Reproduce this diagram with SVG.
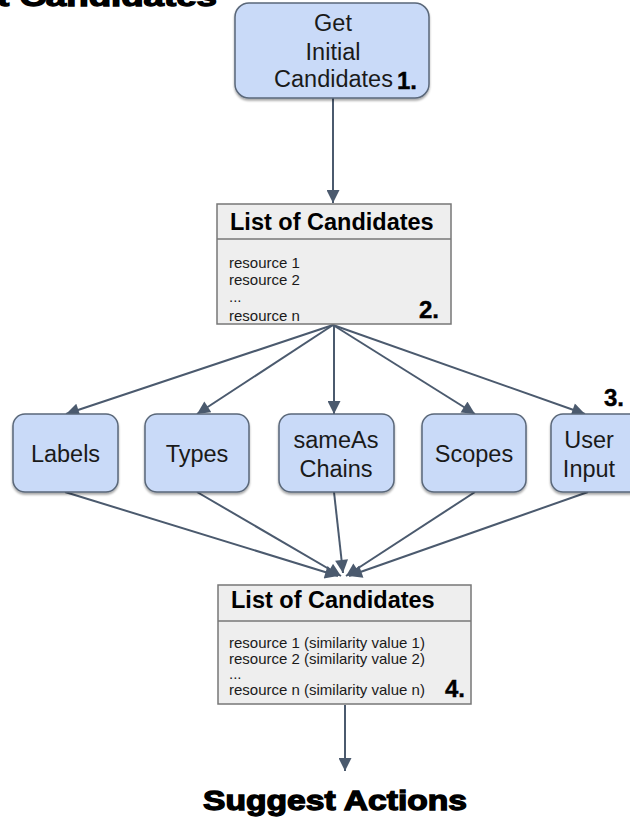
<svg xmlns="http://www.w3.org/2000/svg" width="630" height="822" viewBox="0 0 630 822">
  <style>
    .node rect { fill: #c9daf8; stroke: #5a6779; stroke-width: 1.5; filter: url(#shadow); }
    .list rect { fill: #eeeeee; stroke: #777777; stroke-width: 1.5; }
    .list line { stroke: #777777; stroke-width: 1.5; }
    .lbl { font-family: "Liberation Sans", Arial, sans-serif; font-size: 23.5px; fill: #1a1a1a; text-anchor: middle; }
    .head { font-family: "Liberation Sans", Arial, sans-serif; font-size: 23.5px; font-weight: bold; fill: #000; }
    .body { font-family: "Liberation Sans", Arial, sans-serif; font-size: 15px; fill: #1a1a1a; }
    .num { font-family: "Liberation Sans", Arial, sans-serif; font-size: 24px; font-weight: bold; fill: #000; stroke: #000; stroke-width: 0.4; }
    .title { font-family: "Liberation Sans", Arial, sans-serif; font-size: 28px; font-weight: bold; fill: #000; stroke: #000; stroke-width: 1.3; }
    .edges line { stroke: #4b5a6e; stroke-width: 2; fill: none; marker-end: url(#arrow); }
  </style>
  <defs>
    <marker id="arrow" viewBox="0 0 10 10" refX="10" refY="5" markerUnits="userSpaceOnUse" markerWidth="14" markerHeight="13" orient="auto">
      <path d="M0,0 L10,5 L0,10 z" fill="#4b5a6e"/>
    </marker>
    <filter id="shadow" x="-10%" y="-10%" width="120%" height="130%">
      <feDropShadow dx="0" dy="2" stdDeviation="1.2" flood-color="#000" flood-opacity="0.35"/>
    </filter>
  </defs>

  <rect width="630" height="822" fill="#ffffff"/>

  <!-- heading, partly above the top edge -->
  <text class="title" x="-3" y="6" textLength="220" lengthAdjust="spacingAndGlyphs">t Candidates</text>

  <!-- connectors -->
  <g id="connectors" class="edges">
    <line x1="333" y1="98" x2="333" y2="203"/>
    <line x1="333" y1="325" x2="66" y2="414"/>
    <line x1="333" y1="325" x2="197" y2="414"/>
    <line x1="334" y1="325" x2="334" y2="414"/>
    <line x1="333" y1="325" x2="475" y2="414"/>
    <line x1="333" y1="325" x2="585" y2="414"/>
    <line x1="65" y1="492" x2="338" y2="576"/>
    <line x1="197" y1="492" x2="341" y2="576"/>
    <line x1="334" y1="492" x2="343" y2="573"/>
    <line x1="475" y1="492" x2="346" y2="576"/>
    <line x1="588" y1="492" x2="349" y2="576"/>
    <line x1="345" y1="705" x2="345" y2="771"/>
  </g>

  <g id="get-initial" class="node">
    <rect x="235" y="3" width="194" height="95" rx="14"/>
    <text class="lbl" x="333" y="31">Get</text>
    <text class="lbl" x="333" y="60">Initial</text>
    <text class="lbl" x="333.5" y="87">Candidates</text>
    <text class="num" x="397" y="89">1.</text>
  </g>

  <g id="list-1" class="list">
    <rect x="217" y="204" width="234" height="120"/>
    <line x1="217" y1="239" x2="451" y2="239"/>
    <text class="head" x="230" y="230">List of Candidates</text>
    <text class="body" x="229" y="268">resource 1</text>
    <text class="body" x="229" y="285">resource 2</text>
    <text class="body" x="229" y="302" font-size="11">...</text>
    <text class="body" x="229" y="321">resource n</text>
    <text class="num" x="419" y="318">2.</text>
  </g>

  <g id="labels" class="node">
    <rect x="13" y="414" width="105" height="78" rx="12"/>
    <text class="lbl" x="65.5" y="462">Labels</text>
  </g>

  <g id="types" class="node">
    <rect x="145" y="414" width="104" height="78" rx="12"/>
    <text class="lbl" x="197" y="462">Types</text>
  </g>

  <g id="sameas" class="node">
    <rect x="279" y="414" width="115" height="78" rx="12"/>
    <text class="lbl" x="336" y="448">sameAs</text>
    <text class="lbl" x="336" y="477">Chains</text>
  </g>

  <g id="scopes" class="node">
    <rect x="422" y="414" width="104" height="78" rx="12"/>
    <text class="lbl" x="474" y="462">Scopes</text>
  </g>

  <g id="user-input" class="node">
    <rect x="551" y="414" width="104" height="78" rx="12"/>
    <text class="lbl" x="589" y="448">User</text>
    <text class="lbl" x="589" y="477">Input</text>
    <text class="num" x="604" y="406">3.</text>
  </g>

  <g id="list-2" class="list">
    <rect x="218" y="585" width="253" height="119"/>
    <line x1="218" y1="621" x2="471" y2="621"/>
    <text class="head" x="231" y="608">List of Candidates</text>
    <text class="body" x="229" y="648">resource 1 (similarity value 1)</text>
    <text class="body" x="229" y="663.5">resource 2 (similarity value 2)</text>
    <text class="body" x="229" y="679" font-size="11">...</text>
    <text class="body" x="229" y="695">resource n (similarity value n)</text>
    <text class="num" x="445" y="697">4.</text>
  </g>

  <g id="suggest-actions">
    <text class="title" x="203" y="810" textLength="264" lengthAdjust="spacingAndGlyphs">Suggest Actions</text>
  </g>
</svg>
